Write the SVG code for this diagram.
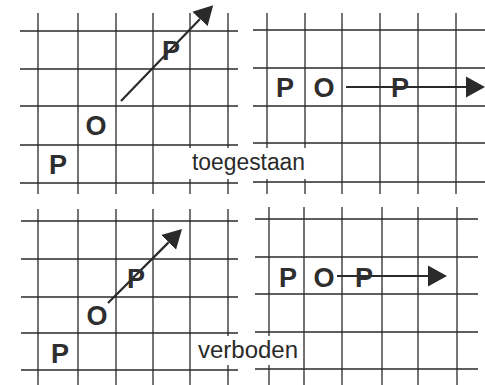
<svg xmlns="http://www.w3.org/2000/svg" width="485" height="385" viewBox="0 0 485 385">
<style>
.g line{stroke:#2a2a2a;stroke-width:1.3}
.pc{font-family:"Liberation Sans","DejaVu Sans",sans-serif;font-weight:bold;font-size:27px;fill:#2e2e2e;text-anchor:middle}
.lbl{font-family:"Liberation Sans","DejaVu Sans",sans-serif;font-size:23px;fill:#2a2a2a}
.arr{stroke:#2a2a2a;stroke-width:2.2;fill:none;marker-end:url(#ah)}
</style>
<defs>
<marker id="ah" viewBox="0 -11 20 22" markerWidth="20" markerHeight="22" refX="0" refY="0" markerUnits="userSpaceOnUse" orient="auto">
<path d="M0,-10.5 L19,0 L0,10.5 z" fill="#2a2a2a"/>
</marker>
</defs>
<rect width="485" height="385" fill="#ffffff"/>

<g id="grid-top-left" class="g">
<line x1="20" y1="31" x2="238" y2="31"/><line x1="20" y1="69" x2="238" y2="69"/><line x1="20" y1="106" x2="238" y2="106"/><line x1="20" y1="145" x2="238" y2="145"/><line x1="20" y1="183" x2="238" y2="183"/>
<line x1="38" y1="13" x2="38" y2="194"/><line x1="78" y1="13" x2="78" y2="194"/><line x1="116" y1="13" x2="116" y2="194"/><line x1="153" y1="13" x2="153" y2="194"/><line x1="190" y1="13" x2="190" y2="194"/><line x1="228" y1="13" x2="228" y2="194"/>
</g>
<g id="grid-top-right" class="g">
<line x1="253" y1="30" x2="485" y2="30"/><line x1="253" y1="68" x2="485" y2="68"/><line x1="253" y1="106" x2="485" y2="106"/><line x1="253" y1="143" x2="485" y2="143"/><line x1="253" y1="182" x2="485" y2="182"/>
<line x1="267" y1="13" x2="267" y2="194"/><line x1="305" y1="13" x2="305" y2="194"/><line x1="342" y1="13" x2="342" y2="194"/><line x1="380" y1="13" x2="380" y2="194"/><line x1="418" y1="13" x2="418" y2="194"/><line x1="456" y1="13" x2="456" y2="194"/>
</g>
<g id="grid-bottom-left" class="g">
<line x1="21" y1="221" x2="238" y2="221"/><line x1="21" y1="259" x2="238" y2="259"/><line x1="21" y1="297" x2="238" y2="297"/><line x1="21" y1="333" x2="238" y2="333"/><line x1="21" y1="370" x2="238" y2="370"/>
<line x1="38" y1="209" x2="38" y2="385"/><line x1="78" y1="209" x2="78" y2="385"/><line x1="116" y1="209" x2="116" y2="385"/><line x1="153" y1="209" x2="153" y2="385"/><line x1="190" y1="209" x2="190" y2="385"/><line x1="228" y1="209" x2="228" y2="385"/>
</g>
<g id="grid-bottom-right" class="g">
<line x1="255" y1="219" x2="478" y2="219"/><line x1="255" y1="257" x2="478" y2="257"/><line x1="255" y1="294" x2="478" y2="294"/><line x1="255" y1="332" x2="478" y2="332"/><line x1="255" y1="369" x2="478" y2="369"/>
<line x1="269" y1="207" x2="269" y2="385"/><line x1="304" y1="207" x2="304" y2="385"/><line x1="342" y1="207" x2="342" y2="385"/><line x1="382" y1="207" x2="382" y2="385"/><line x1="418" y1="207" x2="418" y2="385"/><line x1="457" y1="207" x2="457" y2="385"/>
</g>

<g id="label-toegestaan">
<rect x="186" y="148" width="123" height="31" fill="#ffffff"/>
<text class="lbl" x="192" y="170" textLength="113" lengthAdjust="spacingAndGlyphs">toegestaan</text>
</g>
<g id="label-verboden">
<rect x="195" y="336" width="106" height="29" fill="#ffffff"/>
<text class="lbl" x="198" y="358" textLength="100" lengthAdjust="spacingAndGlyphs">verboden</text>
</g>

<g id="connectors">
<line class="arr" x1="121" y1="101" x2="200" y2="19"/>
<line class="arr" x1="346" y1="87" x2="466" y2="87"/>
<line class="arr" x1="108" y1="303" x2="168.6" y2="242.4"/>
<line class="arr" x1="337" y1="276" x2="428" y2="276"/>
</g>

<g id="tl-p1"><text class="pc" x="58" y="174">P</text></g>
<g id="tl-o"><text class="pc" x="96" y="135">O</text></g>
<g id="tl-p2"><text class="pc" x="171" y="60">P</text></g>

<g id="tr-p1"><text class="pc" x="285" y="97">P</text></g>
<g id="tr-o"><text class="pc" x="324" y="97">O</text></g>
<g id="tr-p2"><text class="pc" x="400" y="97">P</text></g>

<g id="bl-p1"><text class="pc" x="60" y="363">P</text></g>
<g id="bl-o"><text class="pc" x="97" y="325">O</text></g>
<g id="bl-p2"><text class="pc" x="136" y="288">P</text></g>

<g id="br-p1"><text class="pc" x="288" y="287">P</text></g>
<g id="br-o"><text class="pc" x="324" y="287">O</text></g>
<g id="br-p2"><text class="pc" x="364" y="287">P</text></g>
</svg>
